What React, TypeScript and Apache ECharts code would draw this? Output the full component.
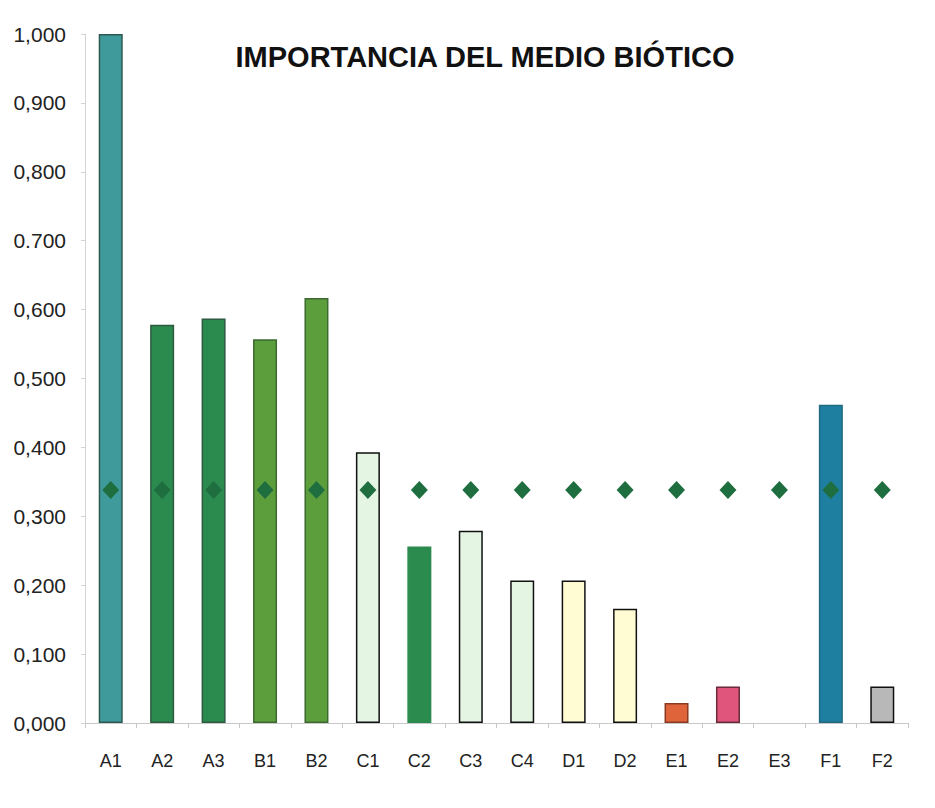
import React, { useEffect, useRef } from "react";
import * as echarts from "echarts";

const categories = ["A1", "A2", "A3", "B1", "B2", "C1", "C2", "C3", "C4", "D1", "D2", "E1", "E2", "E3", "F1", "F2"];
const importance = [1.0, 0.578, 0.587, 0.557, 0.617, 0.393, 0.256, 0.279, 0.207, 0.207, 0.166, 0.029, 0.053, 0.0, 0.462, 0.053];
const meanLine = [0.338, 0.338, 0.338, 0.338, 0.338, 0.338, 0.338, 0.338, 0.338, 0.338, 0.338, 0.338, 0.338, 0.338, 0.338, 0.338];
const barColors = ["#3f9a9c", "#2b8b4f", "#2b8b4f", "#5c9d3c", "#5c9d3c", "#e4f5e4", "#2b8b4f", "#e4f5e4", "#e4f5e4", "#fffbd2", "#fffbd2", "#e0643a", "#e0557c", "#ffffff", "#1f7fa0", "#b8b8b8"];
const barBorders = ["#2d5a50", "#2d5a40", "#2d5a40", "#3d6a30", "#3d6a30", "#111111", "#2b8b4f", "#111111", "#111111", "#111111", "#111111", "#8a3a20", "#6a2a3a", "#ffffff", "#1f6a80", "#111111"];
const yTickLabels = ["0,000", "0,100", "0,200", "0,300", "0,400", "0,500", "0,600", "0.700", "0,800", "0,900", "1,000"];
const title = "IMPORTANCIA DEL MEDIO BIÓTICO";

export default function App() {
  const ref = useRef<HTMLDivElement>(null);
  useEffect(() => {
    if (!ref.current) return;
    const chart = echarts.init(ref.current, null, { renderer: "svg" });
    chart.setOption({
      animation: false,
      backgroundColor: "#ffffff",
      title: {
        text: title,
        left: 480,
        top: 37,
        textAlign: "center",
        textStyle: { fontFamily: "Liberation Sans", fontSize: 29, fontWeight: "bold", color: "#111111" },
      },
      grid: { left: 85, right: 27, top: 34, bottom: 85 },
      xAxis: {
        type: "category",
        data: categories,
        boundaryGap: true,
        axisLine: { show: true, lineStyle: { color: "#c8c8c8", width: 1 } },
        axisTick: { show: true, alignWithLabel: false, length: 5, lineStyle: { color: "#c8c8c8" } },
        axisLabel: { color: "#222222", fontFamily: "Liberation Sans", fontSize: 18, margin: 29 },
      },
      yAxis: {
        type: "value",
        min: 0,
        max: 1,
        interval: 0.1,
        axisLine: { show: true, lineStyle: { color: "#d4d4d4", width: 1 } },
        axisTick: { show: true, length: 4, lineStyle: { color: "#d4d4d4" } },
        splitLine: { show: false },
        axisLabel: {
          color: "#222222",
          fontFamily: "Liberation Sans",
          fontSize: 21,
          margin: 19,
          formatter: (v: number) => yTickLabels[Math.round(v * 10)] ?? "",
        },
      },
      series: [
        {
          type: "bar",
          barWidth: 24,
          data: importance.map((v, i) => ({
            value: v,
            itemStyle: { color: barColors[i], borderColor: barBorders[i], borderWidth: v > 0 ? 1.5 : 0 },
          })),
          z: 2,
        },
        {
          type: "line",
          data: meanLine,
          symbol: "diamond",
          symbolSize: [17, 18],
          lineStyle: { opacity: 0 },
          itemStyle: { color: "#1f6e40" },
          z: 3,
        },
      ],
    });
    return () => chart.dispose();
  }, []);
  return <div ref={ref} style={{ width: 935, height: 808, position: "absolute", left: 0, top: 0 }} />;
}
